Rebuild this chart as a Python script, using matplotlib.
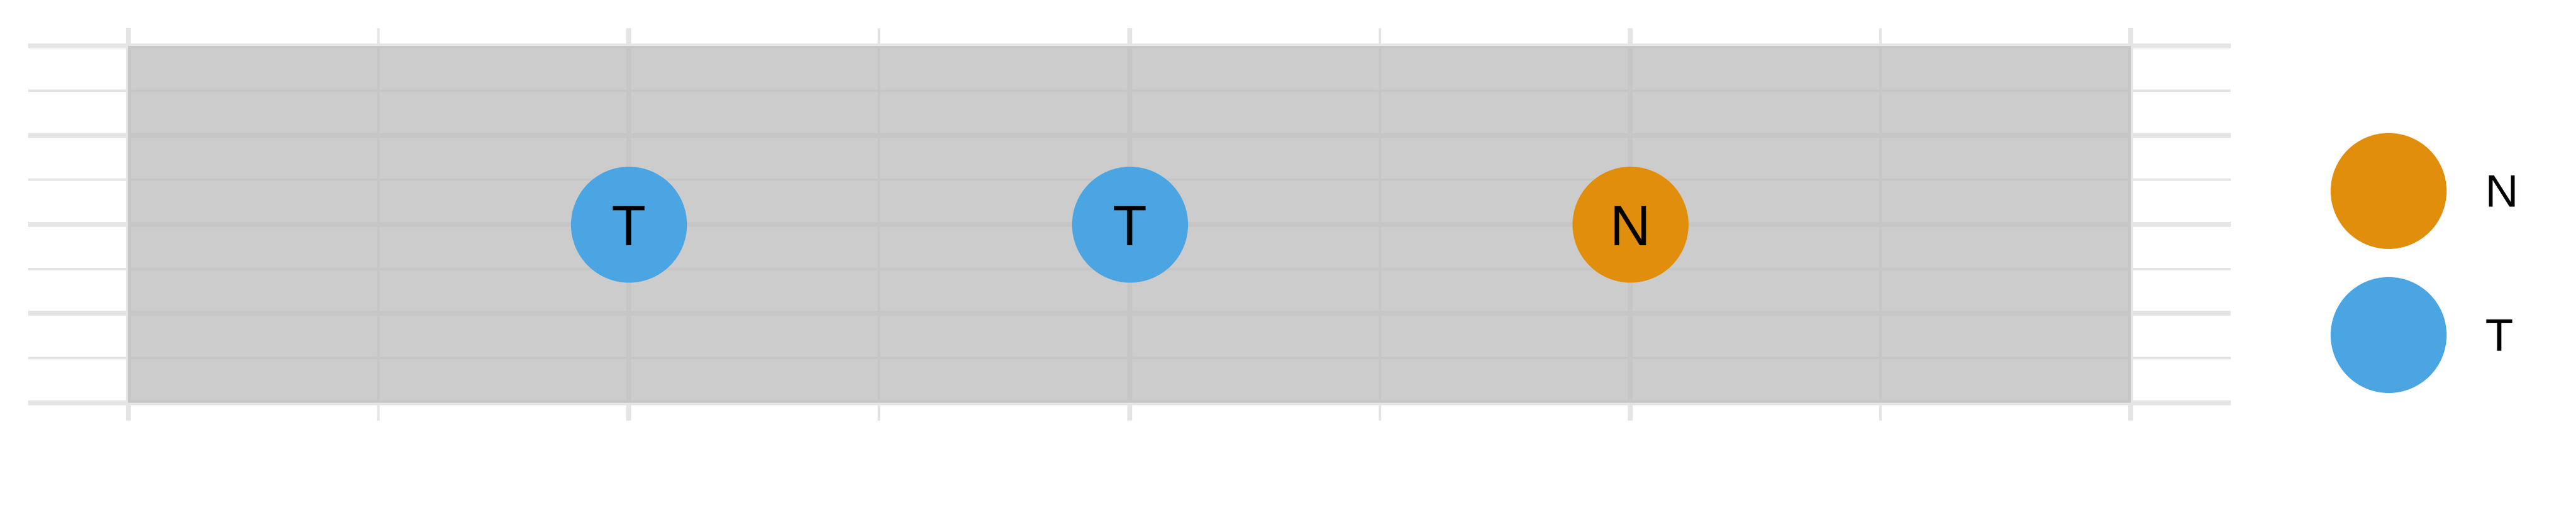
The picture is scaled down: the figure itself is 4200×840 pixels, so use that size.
import matplotlib.pyplot as plt
from matplotlib.patches import Rectangle
from matplotlib.ticker import MultipleLocator

plt.rcParams['font.family'] = ['Liberation Sans', 'DejaVu Sans']

# data
labels = ["T", "T", "N"]
x_pos = [1, 2, 3]
y_pos = [0, 0, 0]
groups = ["N", "T"]
group_colors = {"N": "#E08E0B", "T": "#4AA5E2"}

# shaded band covering the data range
band_x = (0, 4)
band_y = (-1, 1)

fig = plt.figure(figsize=(14, 2.8), dpi=300)
ax = fig.add_axes([46 / 4200, 154 / 840, 3591 / 4200, 640 / 840])

pad_x = 0.05 * (band_x[1] - band_x[0])
pad_y = 0.05 * (band_y[1] - band_y[0])
ax.set_xlim(band_x[0] - pad_x, band_x[1] + pad_x)
ax.set_ylim(band_y[0] - pad_y, band_y[1] + pad_y)

ax.xaxis.set_major_locator(MultipleLocator(1))
ax.xaxis.set_minor_locator(MultipleLocator(0.5))
ax.yaxis.set_major_locator(MultipleLocator(0.5))
ax.yaxis.set_minor_locator(MultipleLocator(0.25))
ax.grid(True, which='major', color='#e5e5e5', linewidth=1.92)
ax.grid(True, which='minor', color='#e5e5e5', linewidth=0.96)
ax.set_axisbelow(True)
ax.tick_params(which='both', length=0, labelbottom=False, labelleft=False)
for s in ax.spines.values():
    s.set_visible(False)

ax.add_patch(Rectangle((band_x[0], band_y[0]), band_x[1] - band_x[0],
                       band_y[1] - band_y[0], facecolor='#bdbdbd',
                       edgecolor='none', alpha=0.77, zorder=1))

for g in groups:
    xs = [x for x, l in zip(x_pos, labels) if l == g]
    ys = [y for y, l in zip(y_pos, labels) if l == g]
    ax.scatter(xs, ys, s=45.4 ** 2, color=group_colors[g], linewidths=0,
               label=g, zorder=2)

for x, y, l in zip(x_pos, y_pos, labels):
    ax.text(x, y, l, ha='center', va='center_baseline', fontsize=22,
            color='black', zorder=3)

fig.legend(*ax.get_legend_handles_labels(), loc='center left',
           bbox_to_anchor=(3763 / 4200, 405 / 840), frameon=False,
           fontsize=18, borderpad=0, handlelength=2.5, handleheight=0.7,
           labelspacing=2.22, handletextpad=0.85, scatterpoints=1,
           scatteryoffsets=[0.5])

fig.savefig('out.png', dpi=300)
